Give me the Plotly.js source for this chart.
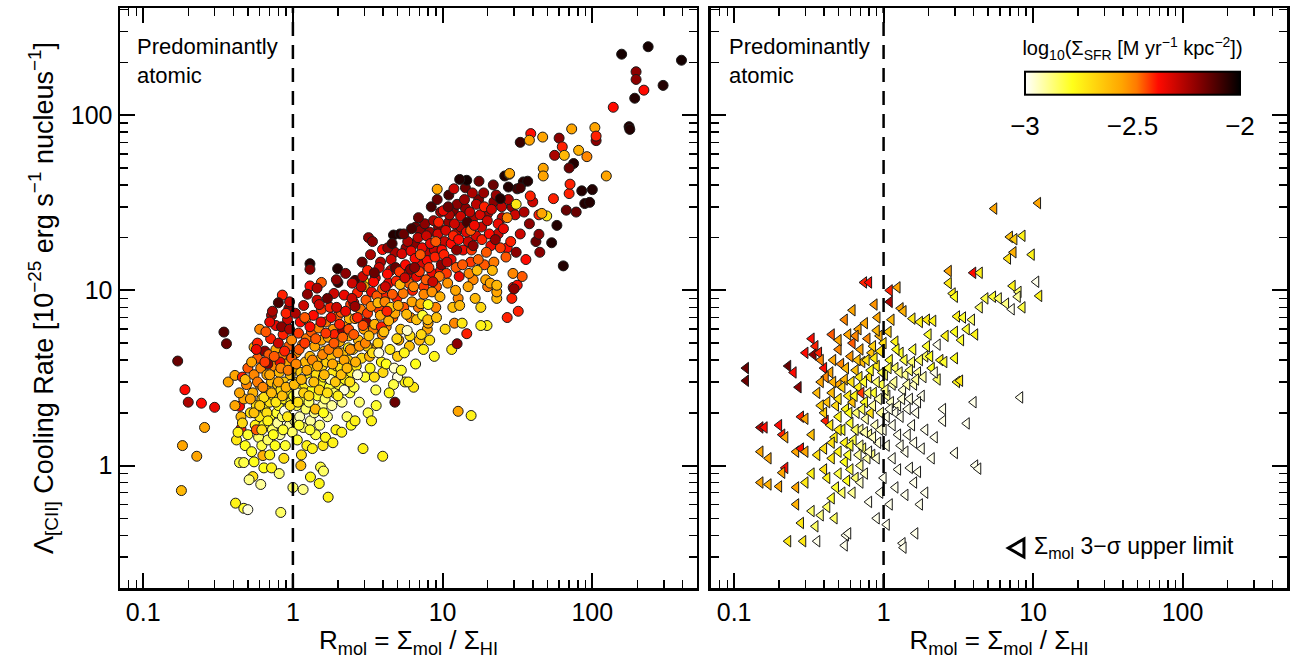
<!DOCTYPE html>
<html>
<head>
<meta charset="utf-8">
<script src="https://cdn.plot.ly/plotly-3.0.1.min.js"></script>
<style>
  html, body { margin: 0; padding: 0; background: #fff; }
  #chart { width: 1294px; height: 669px; }
</style>
</head>
<body>
<div id="chart"></div>
<script>
// Each point is [R_mol, Lambda_CII, log10 SFR surface density]

// Left panel: detected molecular gas (circles)
const detLowOutliers = [
  [0.17,3.95,-2.15],[0.19,2.71,-2.38],[0.2,2.3,-2.25],[0.245,2.27,-2.38],[0.3,2.15,-2.35],
  [0.257,1.65,-2.55],[0.183,1.3,-2.55],[0.228,1.13,-2.55],[0.18,0.72,-2.6],[0.346,5.78,-2.12],
  [0.36,4.96,-2.15],[0.414,0.61,-2.75],[0.47,0.57,-2.8],[0.5,0.56,-2.97],[0.83,0.54,-2.85],
  [1.0,0.75,-2.85],[1.17,0.73,-2.88],[1.72,0.66,-2.75],[3.98,1.13,-2.75],[2.94,1.25,-2.75],
  [0.44,1.04,-2.82],[0.47,1.04,-2.82],[0.54,0.865,-2.7],[0.51,0.83,-2.88],[0.61,0.78,-2.9],
  [0.64,0.97,-2.78],[0.72,0.97,-2.75],[0.81,0.9,-2.86],[1.53,0.98,-2.82],[1.6,0.93,-2.85],
  [1.31,0.86,-2.76],[1.5,0.79,-2.76],[1.13,1.0,-2.62],[0.63,1.14,-2.58],[0.45,1.62,-2.4],
  [0.44,2.18,-2.38],[0.37,3.0,-2.55],[0.41,3.27,-2.55],[0.46,3.2,-2.4],[0.55,4.74,-2.55],
  [0.65,4.5,-2.2],[0.85,9.4,-2.4],[0.8,8.5,-2.1],[0.72,7.2,-2.25],[0.94,7.9,-2.2],
  [1.3,14.2,-2.05],[1.3,13.2,-2.2],[1.99,13.3,-2.05],[2.0,11.1,-2.08],[1.55,11.1,-2.45],
  [1.3,10.6,-2.38],[3.2,20,-2.2],[3.4,19,-2.2],[3.97,17.1,-2.38],[4.7,20.7,-2.05],
  [5.2,21,-2.05],[6.6,23,-2.15],[2.6,11.4,-2.1],[3.0,11.2,-2.75],[4.8,2.3,-2.15],
  [5.6,3.0,-2.75],[6.4,2.8,-2.72],[5.0,3.2,-2.97],[12.7,2.04,-2.55],[15.5,1.93,-2.75]
];

const detHighOutliers = [
  [157,223,-2.03],[236,246,-2.03],[394,206,-2.03],[196,177,-2.2],[196,160,-2.2],
  [221,139,-2.38],[192,125,-2.05],[297,148,-2.05],[138,111,-2.38],[176,86,-2.05],
  [178,83,-2.05],[33,70,-2.08],[38.8,78.5,-2.38],[38,72,-2.55],[46.6,75,-2.55],
  [60,74,-2.2],[72.8,83.5,-2.55],[104,85,-2.55],[106,71.6,-2.2],[106,76,-2.4],
  [63,66,-2.4],[56,59,-2.25],[65,59,-2.6],[81,63,-2.58],[92,58,-2.5],
  [75,53,-2.05],[70,50,-2.15],[47,49.8,-2.55],[47,45,-2.55],[124,45,-2.55],
  [14.5,42.5,-2.03],[9.2,37.8,-2.55],[27.9,46,-2.58],[34.6,41.6,-2.05],[37,42,-2.05],
  [27.5,38.9,-2.05],[33,38.5,-2.1],[38.5,34.6,-2.4],[31,31,-2.72],[24.3,33.4,-2.05],
  [55,33.4,-2.4],[70,35.7,-2.4],[85,37,-2.05],[100,37.6,-2.05],[67,28.7,-2.15],
  [78,28,-2.15],[89,31.3,-2.05],[96,31.8,-2.05],[71,40.4,-2.4],[58,23.5,-2.05],
  [53.5,18.7,-2.05],[64,13.8,-2.05],[44.6,16.5,-2.2],[44,20.9,-2.2],[49.6,26.6,-2.72],
  [46,27.5,-2.55],[29.6,10.4,-2.38],[31.5,10.7,-2.38],[32,7.6,-2.4],[27,7.0,-2.4],
  [19.8,6.3,-2.75],[18,6.3,-2.75],[23,9.8,-2.55],[23,10.7,-2.6],[14.5,5.66,-2.4],
  [12.5,4.96,-2.2],[30,10.2,-2.2],[28,46.5,-2.55],[13,43,-2.05],[10.9,30,-2.15]
];

const detCloudLow = [
  [0.42,1.4,-2.72],[0.43,1.55,-2.75],[0.45,1.9,-2.6],[0.47,2.4,-2.55],[0.48,1.3,-2.78],
  [0.49,2.9,-2.5],[0.44,2.6,-2.55],[0.46,1.75,-2.68],[0.5,3.6,-2.45],[0.5,1.5,-2.8],
  [0.41,2.2,-2.55],[0.48,3.1,-2.6],
  [0.52,2.0,-2.7],[0.53,1.2,-2.8],[0.54,2.6,-2.58],[0.55,3.3,-2.5],[0.56,1.7,-2.75],
  [0.57,2.2,-2.7],[0.58,4.1,-2.45],[0.59,1.45,-2.85],[0.6,2.9,-2.55],[0.6,1.9,-2.72],
  [0.61,3.6,-2.5],[0.62,1.3,-2.82],[0.62,2.4,-2.65],[0.55,1.05,-2.78],[0.58,5.0,-2.4],
  [0.53,3.9,-2.55],[0.6,6.0,-2.5],[0.57,1.6,-2.45],
  [0.64,1.7,-2.8],[0.65,2.1,-2.75],[0.66,2.7,-2.6],[0.67,3.3,-2.55],[0.68,1.4,-2.85],
  [0.69,4.3,-2.45],[0.7,2.3,-2.7],[0.7,1.9,-2.78],[0.71,5.3,-2.4],[0.72,3.0,-2.6],
  [0.73,1.6,-2.85],[0.74,2.5,-2.72],[0.75,3.7,-2.5],[0.76,1.3,-2.78],[0.77,6.3,-2.35],
  [0.78,2.0,-2.8],[0.79,2.9,-2.65],[0.66,5.8,-2.45],[0.73,7.6,-2.25],[0.68,3.8,-2.2],
  [0.77,4.6,-2.55],[0.79,1.75,-2.9],[0.64,2.45,-2.7],[0.7,1.15,-2.75],
  [0.8,2.2,-2.78],[0.81,3.4,-2.6],[0.82,1.5,-2.9],[0.83,2.7,-2.7],[0.84,4.2,-2.5],
  [0.85,1.9,-2.85],[0.86,5.6,-2.4],[0.87,2.4,-2.75],[0.88,3.0,-2.65],[0.89,1.3,-2.8],
  [0.9,3.8,-2.55],[0.91,2.1,-2.82],[0.92,6.8,-2.3],[0.93,2.6,-2.72],[0.94,4.8,-2.45],
  [0.95,1.7,-2.9],[0.96,3.3,-2.62],[0.97,2.3,-2.8],[0.98,5.2,-2.5],[0.99,1.55,-2.85],
  [0.84,6.2,-2.2],[0.9,7.4,-2.4],[0.87,1.1,-2.7],[0.95,8.6,-2.3],[0.82,3.9,-2.35],
  [0.97,2.9,-2.95],[0.88,2.05,-2.98]
];

const detCloudMid = [
  [1.01,2.5,-2.78],[1.02,3.6,-2.62],[1.03,1.8,-2.88],[1.05,4.4,-2.52],[1.06,2.2,-2.82],
  [1.07,1.4,-2.8],[1.08,3.0,-2.7],[1.09,5.7,-2.42],[1.1,2.7,-2.76],[1.11,1.9,-2.92],
  [1.12,6.6,-2.38],[1.13,3.4,-2.65],[1.15,2.4,-2.8],[1.16,4.9,-2.5],[1.17,1.65,-2.88],
  [1.18,8.2,-2.3],[1.2,2.9,-2.72],[1.21,3.9,-2.6],[1.22,2.1,-2.85],[1.23,5.3,-2.48],
  [1.24,1.3,-2.75],[1.25,9.5,-2.2],[1.04,7.4,-2.25],[1.14,1.15,-2.7],[1.19,3.2,-2.98],
  [1.07,2.6,-2.95],[1.22,6.9,-2.55],
  [1.27,3.1,-2.72],[1.28,2.3,-2.85],[1.3,4.2,-2.6],[1.31,1.8,-2.9],[1.33,5.8,-2.45],
  [1.34,2.7,-2.78],[1.36,3.6,-2.68],[1.37,7.2,-2.38],[1.39,2.0,-2.88],[1.4,4.8,-2.55],
  [1.42,1.5,-2.82],[1.43,3.3,-2.7],[1.45,8.8,-2.3],[1.46,2.5,-2.8],[1.48,6.1,-2.5],
  [1.5,4.0,-2.62],[1.51,1.7,-2.86],[1.53,2.9,-2.76],[1.55,5.2,-2.55],[1.57,3.7,-2.68],
  [1.58,2.2,-2.9],[1.35,1.25,-2.75],[1.45,10.3,-2.25],[1.32,3.0,-2.97],[1.55,7.8,-2.42],
  [1.41,2.1,-2.6],[1.59,1.3,-2.72],
  [1.6,3.2,-2.74],[1.62,4.5,-2.6],[1.64,2.4,-2.85],[1.66,6.6,-2.48],[1.68,3.9,-2.66],
  [1.7,1.9,-2.88],[1.72,5.4,-2.55],[1.75,2.8,-2.8],[1.77,8.0,-2.4],[1.8,4.2,-2.62],
  [1.82,2.2,-2.9],[1.84,3.4,-2.72],[1.86,6.0,-2.52],[1.88,9.6,-2.3],[1.9,2.6,-2.84],
  [1.92,4.8,-2.58],[1.94,1.6,-2.75],[1.96,3.7,-2.68],[1.98,7.1,-2.45],[1.65,1.45,-2.76],
  [1.78,3.1,-2.95],[1.95,11.5,-2.2],[1.7,9.0,-2.15],[1.85,1.35,-2.75],[1.9,5.6,-2.4],
  [2.02,2.9,-2.8],[2.05,5.1,-2.58],[2.08,3.6,-2.7],[2.1,7.5,-2.45],[2.13,2.3,-2.88],
  [2.16,4.4,-2.62],[2.2,9.4,-2.35],[2.23,3.1,-2.76],[2.26,6.2,-2.52],[2.3,1.9,-2.85],
  [2.33,4.0,-2.66],[2.36,5.5,-2.58],[2.4,2.6,-2.82],[2.43,8.3,-2.42],[2.46,3.4,-2.74],
  [2.49,11.0,-2.3],[2.12,1.55,-2.75],[2.25,12.5,-2.2],[2.38,6.9,-2.6],[2.2,2.7,-2.97],
  [2.45,1.7,-2.78],[2.15,5.9,-2.2],[2.35,4.7,-2.75],
  [2.52,4.6,-2.64],[2.56,2.8,-2.82],[2.6,6.9,-2.5],[2.65,3.7,-2.72],[2.7,9.7,-2.4],
  [2.74,5.2,-2.6],[2.78,2.3,-2.86],[2.83,7.8,-2.48],[2.88,4.1,-2.68],[2.93,12.0,-2.3],
  [2.98,6.0,-2.55],[3.03,3.2,-2.8],[3.08,8.8,-2.45],[3.13,4.8,-2.66],[3.18,2.0,-2.82],
  [2.6,1.8,-2.75],[2.9,14.5,-2.15],[3.1,6.6,-2.2],[2.7,3.3,-2.95],[3.0,10.5,-2.55],
  [2.55,8.5,-2.35],[3.15,13.0,-2.4]
];

const detCloudHigh = [
  [3.22,5.5,-2.62],[3.28,3.6,-2.76],[3.33,8.1,-2.5],[3.4,4.4,-2.7],[3.46,11.2,-2.38],
  [3.52,6.4,-2.58],[3.58,2.7,-2.84],[3.64,9.3,-2.45],[3.7,5.0,-2.66],[3.77,13.5,-2.3],
  [3.84,7.2,-2.55],[3.9,3.9,-2.76],[3.97,10.2,-2.45],[3.3,16.0,-2.25],[3.6,2.2,-2.8],
  [3.75,4.4,-2.97],[3.5,12.6,-2.15],[3.9,6.2,-2.4],[3.35,1.8,-2.75],[3.7,8.5,-2.6],
  [4.05,5.8,-2.62],[4.12,8.6,-2.5],[4.2,3.8,-2.78],[4.28,12.4,-2.38],[4.36,6.7,-2.58],
  [4.45,4.6,-2.72],[4.53,15.0,-2.3],[4.62,9.5,-2.45],[4.7,2.9,-2.82],[4.8,7.4,-2.55],
  [4.9,11.3,-2.4],[4.95,5.3,-2.68],[4.3,17.5,-2.2],[4.6,18.5,-2.1],[4.15,10.5,-2.3],
  [4.4,2.6,-2.76],[4.85,13.5,-2.15],[4.5,8.0,-2.65],[4.75,3.6,-2.95],[4.25,7.6,-2.4],
  [5.05,8.2,-2.55],[5.15,12.8,-2.42],[5.25,6.0,-2.64],[5.35,16.2,-2.32],[5.45,9.6,-2.48],
  [5.55,4.4,-2.76],[5.65,14.0,-2.38],[5.75,7.3,-2.6],[5.85,19.0,-2.25],[5.95,11.0,-2.45],
  [6.05,5.5,-2.7],[6.15,16.8,-2.35],[6.25,8.6,-2.55],[5.3,3.5,-2.8],[5.9,3.0,-2.75],
  [5.5,21.0,-2.15],[6.1,13.2,-2.2],[5.2,10.8,-2.6],[5.8,5.9,-2.95],[6.2,22.5,-2.1],
  [5.6,11.8,-2.3],
  [6.4,10.5,-2.5],[6.55,15.2,-2.38],[6.7,6.8,-2.62],[6.85,20.0,-2.28],[7.0,12.8,-2.42],
  [7.15,8.4,-2.56],[7.3,17.5,-2.35],[7.45,4.6,-2.74],[7.6,24.0,-2.2],[7.75,11.5,-2.45],
  [7.9,14.8,-2.38],[6.6,3.8,-2.78],[7.2,5.6,-2.68],[7.5,9.5,-2.5],[6.9,26.0,-2.15],
  [7.8,20.5,-2.3],[6.5,13.5,-2.2],[7.1,16.0,-2.45],[7.35,7.2,-2.8],[7.95,6.8,-2.62],
  [8.1,13.5,-2.42],[8.3,18.5,-2.35],[8.5,9.8,-2.52],[8.7,25.0,-2.25],[8.9,15.5,-2.4],
  [9.1,7.0,-2.62],[9.3,21.0,-2.32],[9.5,12.0,-2.48],[9.7,28.0,-2.22],[9.9,17.0,-2.38],
  [8.2,5.2,-2.7],[8.8,4.2,-2.76],[9.6,9.2,-2.58],[8.4,30.0,-2.1],[9.2,33.0,-2.15],
  [8.6,11.2,-2.3],[9.8,14.0,-2.2],[9.0,19.0,-2.45],[8.0,8.3,-2.78],[9.4,24.5,-2.4]
];

const detCloudTop = [
  [10.2,16.0,-2.4],[10.5,22.0,-2.32],[10.8,11.0,-2.52],[11.1,27.0,-2.25],[11.4,18.5,-2.38],
  [11.7,8.0,-2.62],[12.0,24.0,-2.3],[12.3,13.5,-2.45],[12.5,31.0,-2.2],[10.4,6.0,-2.68],
  [11.0,35.0,-2.1],[11.8,20.5,-2.4],[12.2,10.0,-2.55],[10.7,14.5,-2.28],[11.5,4.6,-2.72],
  [12.4,17.0,-2.2],[10.1,28.5,-2.35],[11.9,38.0,-2.3],
  [12.8,19.5,-2.38],[13.2,26.5,-2.3],[13.6,14.0,-2.45],[14.0,33.0,-2.22],[14.4,21.5,-2.35],
  [14.8,10.5,-2.55],[15.2,28.0,-2.28],[15.6,17.0,-2.42],[13.0,8.2,-2.6],[14.2,38.5,-2.15],
  [15.0,12.5,-2.5],[15.8,36.0,-2.25],[13.5,6.5,-2.72],[14.6,24.5,-2.1],[15.4,22.0,-2.45],
  [12.9,12.0,-2.35],
  [16.3,23.5,-2.36],[16.8,31.0,-2.28],[17.3,15.0,-2.46],[17.8,27.0,-2.32],[18.3,19.5,-2.4],
  [18.8,36.0,-2.22],[19.4,11.5,-2.55],[19.9,25.0,-2.3],[16.5,9.0,-2.6],[17.5,42.0,-2.15],
  [18.0,8.0,-2.68],[19.0,30.0,-2.4],[16.0,18.0,-2.2],[19.6,16.5,-2.45],[17.0,13.0,-2.62],
  [20.5,21.0,-2.38],[21.2,29.0,-2.3],[22.0,14.5,-2.48],[22.8,35.0,-2.22],[23.5,24.0,-2.35],
  [24.3,17.5,-2.42],[20.8,11.0,-2.55],[21.8,40.0,-2.15],[23.0,9.0,-2.6],[24.8,30.0,-2.28],
  [22.5,19.5,-2.2],[21.5,13.0,-2.6],
  [25.5,22.5,-2.35],[26.5,15.5,-2.45],[27.5,33.0,-2.25],[28.5,19.0,-2.4],[29.5,12.5,-2.5],
  [30.5,27.0,-2.3],[31.5,38.0,-2.1],[26.0,45.0,-2.05],[29.0,9.0,-2.4],[31.0,16.5,-2.2],
  [27.0,26.0,-2.5],
  [33,21,-2.3],[35,28,-2.25],[36,15,-2.38],[38,24,-2.2],[40,32,-2.3],
  [42,19,-2.15],[44,27,-2.4],[34,12,-2.45]
];

// extra points in the crowded middle of the cloud
const detCloudFill = [
  [0.52,2.4,-2.55],[0.55,2.0,-2.62],[0.58,3.0,-2.48],[0.6,2.2,-2.66],[0.63,2.8,-2.5],
  [0.65,3.9,-2.42],[0.67,2.0,-2.7],[0.7,3.3,-2.55],[0.72,2.6,-2.6],[0.75,4.2,-2.45],
  [0.77,2.3,-2.72],[0.8,3.0,-2.55],[0.83,3.6,-2.5],[0.85,2.5,-2.62],[0.88,4.5,-2.4],
  [0.9,2.8,-2.58],[0.93,3.5,-2.48],[0.96,2.2,-2.7],[0.98,4.1,-2.45],[0.62,1.6,-2.7],
  [0.68,1.8,-2.75],[0.74,1.5,-2.78],[0.86,1.6,-2.8],[0.92,1.9,-2.72],[0.57,4.6,-2.35],
  [0.8,5.0,-2.3],[0.95,6.0,-2.25],[0.7,6.6,-2.35],
  [1.02,2.9,-2.6],[1.05,3.8,-2.5],[1.08,2.3,-2.7],[1.1,4.6,-2.45],[1.14,3.1,-2.58],
  [1.18,2.6,-2.66],[1.2,5.0,-2.42],[1.24,3.5,-2.55],[1.28,2.5,-2.68],[1.3,6.2,-2.38],
  [1.35,4.0,-2.5],[1.38,3.0,-2.62],[1.42,5.3,-2.45],[1.46,3.7,-2.56],[1.5,2.7,-2.66],
  [1.54,6.6,-2.35],[1.58,4.3,-2.5],[1.62,3.3,-2.6],[1.66,5.7,-2.42],[1.7,2.6,-2.7],
  [1.74,4.6,-2.48],[1.8,7.0,-2.35],[1.84,3.8,-2.56],[1.88,5.0,-2.45],[1.92,3.0,-2.64],
  [1.96,8.0,-2.3],[2.0,4.4,-2.52],[2.05,6.4,-2.4],[2.1,3.3,-2.62],[2.15,5.4,-2.46],
  [2.2,4.0,-2.55],[2.25,7.6,-2.35],[2.3,3.6,-2.6],[2.36,6.0,-2.44],[2.42,4.6,-2.52],
  [2.48,9.0,-2.3],[2.55,5.6,-2.45],[2.62,3.9,-2.58],[2.7,7.0,-2.4],[2.78,4.8,-2.52],
  [2.86,10.5,-2.28],[2.94,6.3,-2.44],[2.6,8.1,-2.22],[1.5,8.3,-2.3],[1.2,7.0,-2.45],
  [2.0,2.5,-2.74],[2.4,3.0,-2.7],[1.3,1.6,-2.8],[1.6,2.0,-2.78],[1.1,1.7,-2.8],
  [3.05,5.0,-2.5],[3.15,7.4,-2.42],[3.25,4.2,-2.58],[3.35,9.8,-2.35],[3.45,6.0,-2.48],
  [3.55,11.8,-2.3],[3.65,4.8,-2.55],[3.75,7.8,-2.42],[3.85,14.5,-2.25],[3.95,5.6,-2.5],
  [4.1,9.2,-2.4],[4.2,6.2,-2.5],[4.35,11.0,-2.35],[4.5,13.0,-2.3],[4.65,7.0,-2.46],
  [4.8,16.5,-2.25],[4.95,9.0,-2.4],[5.1,5.2,-2.58],[5.3,11.5,-2.36],[5.5,8.0,-2.45],
  [5.7,17.5,-2.22],[5.9,12.5,-2.32],[6.1,7.0,-2.5],[6.3,10.0,-2.4],[6.5,18.5,-2.2],
  [6.7,12.0,-2.35],[6.9,8.0,-2.48],[7.1,22.0,-2.2],[7.3,14.0,-2.32],[7.5,10.5,-2.42],
  [7.7,16.5,-2.28],[7.9,6.0,-2.55],[8.2,21.5,-2.22],[8.5,12.5,-2.35],[8.8,17.0,-2.3],
  [9.1,10.5,-2.45],[9.4,23.0,-2.2],[9.7,13.0,-2.38],[5.0,4.2,-2.65],[6.0,4.8,-2.62],
  [7.0,5.2,-2.6],[8.0,6.5,-2.55],[9.0,8.0,-2.5],[4.0,3.4,-2.68],[3.5,3.2,-2.7],
  [10.3,19.0,-2.3],[10.6,12.5,-2.42],[11.0,24.5,-2.22],[11.4,15.0,-2.35],[11.8,28.5,-2.18],
  [12.2,21.0,-2.3],[12.7,9.0,-2.5],[13.2,23.0,-2.25],[13.7,17.0,-2.35],[14.2,29.5,-2.2],
  [14.8,19.0,-2.3],[15.4,14.5,-2.42],[16.0,26.0,-2.25],[16.7,20.5,-2.32],[17.4,33.0,-2.18],
  [18.2,23.0,-2.3],[19.0,14.0,-2.45],[20.0,27.5,-2.25],[21.0,18.0,-2.35],[22.0,32.0,-2.2],
  [23.5,21.0,-2.3],[25.0,26.0,-2.28],[27.0,17.5,-2.38],[29.0,30.0,-2.22],[12.0,6.5,-2.5],
  [16.0,11.5,-2.5],[20.0,10.5,-2.48]
];

// Right panel: 3-sigma upper limits on Sigma_mol (left-pointing triangles)
const limTrend = [
  [10.8,31.5,-2.55],[5.5,29.3,-2.55],[7.0,20.2,-2.62],[7.5,19.6,-2.65],[8.5,20.5,-2.75],
  [6.8,15.2,-2.7],[7.4,16.5,-2.58],[9.8,16.0,-2.75],[2.73,12.9,-2.55],[3.98,12.6,-2.38],
  [4.4,12.6,-2.75],[2.73,11.0,-2.72],[2.9,9.6,-2.75],[3.0,9.2,-2.78],[7.3,10.6,-2.75],
  [8.0,9.8,-2.85],[10.5,11.2,-2.98],[11.0,9.3,-2.75],[0.74,11.1,-2.4],[0.8,11.1,-2.38],
  [1.1,10.0,-2.4],[1.24,10.4,-2.55],[1.1,8.6,-2.25],[1.3,7.9,-2.55],[1.36,7.6,-2.58],
  [0.62,7.7,-2.55],[0.87,8.3,-2.52],[0.91,7.0,-2.55],[1.13,6.8,-2.6],[1.56,6.9,-2.72],
  [1.75,6.6,-2.75],[1.95,6.8,-2.72],[2.15,6.7,-2.75],[3.1,7.1,-2.75],[3.4,7.0,-2.8],
  [3.9,6.8,-2.85],[4.8,9.0,-2.82],[5.4,9.2,-2.8],[5.9,9.0,-2.85],[6.6,8.4,-2.88],
  [7.2,7.8,-2.98],[7.9,9.2,-2.9],[8.5,8.0,-2.82],[4.4,8.0,-2.85],[3.6,6.0,-2.8],
  [4.1,5.6,-2.75],[3.0,5.8,-2.78],[3.3,5.2,-2.8],[2.6,5.5,-2.75],[2.3,4.9,-2.98],
  [2.0,5.6,-2.8],[3.1,3.0,-2.75],[3.25,3.05,-2.72],[2.4,4.0,-2.75],[2.55,3.9,-2.8],
  [3.0,4.1,-2.78],[2.1,3.6,-2.78],[2.3,3.1,-2.85],[2.2,3.4,-2.98]
];

const limFaint = [
  [4.0,2.3,-2.98],[8.2,2.45,-2.98],[3.6,1.74,-2.98],[2.5,2.1,-2.98],[2.5,1.8,-2.98],
  [3.0,1.18,-2.98],[4.1,1.0,-2.98],[4.3,0.96,-2.98],[1.5,0.97,-2.98],[1.7,0.92,-2.98],
  [1.6,0.8,-2.98],[1.9,0.7,-2.98],[1.75,0.6,-2.98],[1.63,0.41,-2.98],[1.34,0.36,-2.98],
  [1.36,0.34,-2.98],[1.05,0.46,-2.98],[0.56,0.4,-2.98],[0.58,0.41,-2.98],[0.55,0.35,-2.98],
  [0.36,0.37,-2.98],[1.3,1.3,-2.98],[1.45,1.5,-2.98],[1.8,1.25,-2.98],[2.1,1.1,-2.98],
  [1.2,0.75,-2.98],[1.1,0.6,-2.98],[1.0,0.85,-2.98],[1.25,0.95,-2.98],[1.55,1.7,-2.98],
  [2.2,1.45,-2.98],[1.15,1.1,-2.98],[0.95,0.7,-2.98],[0.8,0.62,-2.98],[0.9,0.5,-2.98],
  [1.4,0.68,-2.98]
];

const limAtomic = [
  [0.33,5.3,-2.38],[0.35,4.8,-2.4],[0.3,4.4,-2.38],[0.34,4.3,-2.2],[0.37,4.4,-2.4],
  [0.23,3.7,-2.15],[0.25,3.4,-2.38],[0.27,2.8,-2.2],[0.12,3.6,-2.15],[0.12,3.05,-2.15],
  [0.4,3.6,-2.38],[0.44,3.4,-2.55],[0.41,3.2,-2.5],[0.38,3.0,-2.55],[0.28,1.9,-2.4],
  [0.3,1.85,-2.55],[0.41,1.8,-2.4],[0.15,1.65,-2.25],[0.16,1.65,-2.38],[0.2,1.7,-2.38],
  [0.21,1.5,-2.4],[0.22,1.45,-2.55],[0.15,1.2,-2.55],[0.17,1.1,-2.55],[0.26,1.2,-2.55],
  [0.28,1.25,-2.38],[0.3,1.2,-2.55],[0.22,0.97,-2.38],[0.21,0.91,-2.55],[0.15,0.8,-2.55],
  [0.17,0.78,-2.58],[0.2,0.76,-2.55],[0.26,0.75,-2.55],[0.26,0.6,-2.58],[0.3,0.8,-2.72],
  [0.28,0.47,-2.72],[0.35,0.45,-2.85],[0.23,0.37,-2.72],[0.29,0.37,-2.72],[0.33,0.55,-2.85],
  [0.38,0.52,-2.88],[0.42,0.58,-2.85],[0.47,0.5,-2.85]
];

const limCore = [
  [0.45,2.6,-2.6],[0.5,2.9,-2.55],[0.48,2.2,-2.68],[0.52,3.8,-2.5],[0.55,3.1,-2.58],
  [0.58,2.5,-2.72],[0.6,4.2,-2.52],[0.62,5.0,-2.45],[0.65,3.5,-2.62],[0.68,2.8,-2.74],
  [0.7,4.6,-2.55],[0.72,3.9,-2.6],[0.75,2.3,-2.78],[0.78,5.3,-2.5],[0.8,3.2,-2.7],
  [0.83,4.4,-2.62],[0.86,2.6,-2.8],[0.9,3.7,-2.72],[0.94,5.5,-2.58],[0.97,2.9,-2.82],
  [0.4,2.0,-2.65],[0.44,1.7,-2.72],[0.47,1.45,-2.74],[0.5,1.9,-2.75],[0.53,1.6,-2.78],
  [0.56,2.1,-2.76],[0.6,1.75,-2.8],[0.63,1.4,-2.82],[0.66,2.0,-2.86],[0.7,1.6,-2.9],
  [0.73,1.25,-2.85],[0.76,1.85,-2.92],[0.8,1.5,-2.9],[0.84,1.15,-2.88],[0.88,1.7,-2.94],
  [0.92,1.35,-2.96],[0.96,2.0,-2.9],[1.0,1.6,-2.97],[0.5,1.2,-2.75],[0.55,1.05,-2.78],
  [0.6,0.95,-2.82],[0.65,0.85,-2.86],[0.7,1.0,-2.9],[0.75,0.9,-2.94],[0.45,1.1,-2.72],
  [0.4,0.95,-2.7],[0.42,0.85,-2.75],[0.48,0.75,-2.8],[0.53,0.7,-2.85],[1.02,3.3,-2.85],
  [1.06,2.5,-2.9],[1.1,4.0,-2.78],[1.15,2.9,-2.92],[1.2,3.6,-2.85],[1.25,2.2,-2.95],
  [1.3,4.4,-2.8],[1.35,2.7,-2.96],[1.4,3.3,-2.9],[1.5,2.4,-2.97],[1.55,3.9,-2.86],
  [1.6,2.9,-2.94],[1.7,3.4,-2.9],[1.8,2.5,-2.98],[1.9,4.2,-2.84],[1.05,1.9,-2.97],
  [1.15,1.7,-2.98],[1.2,2.0,-2.98],[1.3,1.9,-2.98],[1.45,2.1,-2.98],[1.65,2.0,-2.98],
  [1.7,2.3,-2.98],[0.85,4.8,-2.66],[0.9,5.9,-2.6],[1.0,5.0,-2.7],[1.08,5.8,-2.65],
  [1.2,5.1,-2.75],[0.68,6.0,-2.55],[0.58,5.6,-2.55],[0.5,4.6,-2.5],[0.46,4.0,-2.55],
  [0.55,1.35,-2.75],[0.62,2.3,-2.62],[0.71,2.6,-2.42],[0.82,2.0,-2.7],[0.68,1.15,-2.9],
  [0.78,1.1,-2.92],[0.57,0.82,-2.78]
];

const limCoreFill = [
  [0.42,2.3,-2.62],[0.46,3.0,-2.58],[0.5,2.4,-2.7],[0.53,2.8,-2.66],[0.56,3.6,-2.6],
  [0.59,2.0,-2.78],[0.61,3.0,-2.7],[0.64,2.5,-2.76],[0.67,4.0,-2.62],[0.69,3.2,-2.72],
  [0.72,2.1,-2.84],[0.74,3.0,-2.8],[0.77,4.0,-2.7],[0.79,2.6,-2.86],[0.82,3.5,-2.78],
  [0.85,2.2,-2.9],[0.87,4.1,-2.72],[0.9,3.0,-2.86],[0.93,2.4,-2.92],[0.95,4.5,-2.7],
  [0.98,3.4,-2.82],[0.6,1.3,-2.8],[0.65,1.6,-2.84],[0.7,1.3,-2.9],[0.75,1.55,-2.92],
  [0.8,1.2,-2.95],[0.85,1.45,-2.94],[0.9,1.1,-2.96],[0.95,1.6,-2.95],[0.58,1.15,-2.8],
  [0.5,1.6,-2.72],[0.45,1.35,-2.7],[1.03,2.7,-2.88],[1.08,3.6,-2.82],[1.12,2.3,-2.94],
  [1.18,3.0,-2.9],[1.22,4.6,-2.78],[1.28,3.4,-2.88],[1.33,2.4,-2.96],[1.38,4.0,-2.82],
  [1.44,2.9,-2.92],[1.5,3.5,-2.86],[1.58,4.6,-2.8],[1.65,3.1,-2.9],[1.75,4.0,-2.84],
  [1.85,3.2,-2.92],[1.95,4.8,-2.8],[2.05,4.2,-2.78],[0.65,5.5,-2.5],[0.75,6.5,-2.55],
  [0.55,6.8,-2.5],[0.45,5.6,-2.45],[0.5,5.2,-2.55],[0.38,4.0,-2.5],[0.36,2.6,-2.6],
  [0.38,2.2,-2.65],[0.33,1.5,-2.62],[0.36,1.15,-2.7],[0.33,0.9,-2.75],[0.4,1.25,-2.7],
  [0.45,0.65,-2.8],[0.5,0.9,-2.82],[0.62,0.7,-2.9],[0.7,0.8,-2.95],[1.05,1.3,-2.97],
  [1.1,2.1,-2.98],[1.25,1.5,-2.98],[1.4,1.2,-2.98],[1.6,1.35,-2.98],[1.9,1.6,-2.98]
];

const xTickVals = [0.1, 1, 10, 100];
const xTickText = ['0.1', '1', '10', '100'];
const yTickVals = [1, 10, 100];
const yTickText = ['1', '10', '100'];
const cbTickVals = [-3, -2.5, -2];
const cbTickText = ['\u22123', '\u22122.5', '\u22122'];

// Red temperature style colour table, white at -3 to black at -2
const sfrColors = [
  [0, '#ffffff'], [0.22, '#ffff1a'], [0.45, '#ffa500'], [0.52, '#ff7a00'],
  [0.62, '#ff0a00'], [0.8, '#8c0000'], [1, '#000000']
];

const FONT = 'Liberation Sans, Arial, Helvetica, sans-serif';

const detected = detLowOutliers.concat(detCloudLow, detCloudMid, detCloudFill, detCloudHigh, detCloudTop, detHighOutliers);
const limits = limAtomic.concat(limCore, limCoreFill, limFaint, limTrend);

// minor tick positions (2..9 of each decade)
function minorTicks(fromExp, toExp) {
  const vals = [];
  for (let e = fromExp; e <= toExp; e++) {
    for (let m = 2; m <= 9; m++) vals.push(m * Math.pow(10, e));
  }
  return vals;
}

const xMinor = minorTicks(-2, 2);
const yMinor = minorTicks(-1, 2);

var detectedTrace = {
  x: detected.map((p) => p[0]),
  y: detected.map((p) => p[1]),
  xaxis: 'x',
  yaxis: 'y',
  mode: 'markers',
  type: 'scatter',
  marker: {
    symbol: 'circle',
    size: 10,
    color: detected.map((p) => p[2]),
    colorscale: sfrColors,
    cmin: -3,
    cmax: -2,
    line: { color: '#1a1a1a', width: 1 },
    showscale: true,
    colorbar: {
      orientation: 'h',
      x: 0.8676,
      xanchor: 'center',
      y: 0.854,
      yanchor: 'middle',
      len: 0.1845,
      lenmode: 'fraction',
      thickness: 23,
      xpad: 0,
      ypad: 0,
      outlinewidth: 2,
      outlinecolor: '#000',
      tickmode: 'array',
      tickvals: cbTickVals,
      ticktext: cbTickText,
      // invisible outside ticks, only used to push the labels down a little
      ticks: 'outside',
      ticklen: 9,
      tickwidth: 1,
      tickcolor: 'rgba(0,0,0,0)',
      tickfont: { family: FONT, size: 26, color: '#000' },
      title: {
        text: 'log<sub>10</sub>(\u03a3<sub>SFR</sub> [M yr<sup>\u22121</sup> kpc<sup>\u22122</sup>])',
        side: 'top',
        font: { family: FONT, size: 20, color: '#000' },
      },
    },
  },
  hoverinfo: 'x+y',
  showlegend: false,
};

var limitTrace = {
  x: limits.map((p) => p[0]),
  y: limits.map((p) => p[1]),
  xaxis: 'x2',
  yaxis: 'y2',
  mode: 'markers',
  type: 'scatter',
  marker: {
    symbol: 'triangle-left',
    size: 10,
    color: limits.map((p) => p[2]),
    colorscale: sfrColors,
    cmin: -3,
    cmax: -2,
    line: { color: '#1a1a1a', width: 1 },
    showscale: false,
  },
  hoverinfo: 'x+y',
  showlegend: false,
};

function xAxis(domain, anchor) {
  return {
    type: 'log',
    domain: domain,
    anchor: anchor,
    range: [Math.log10(0.07), Math.log10(500)],
    tickmode: 'array',
    tickvals: xTickVals,
    ticktext: xTickText,
    ticks: 'inside',
    ticklen: 15,
    tickwidth: 2,
    tickcolor: '#000',
    minor: { tickmode: 'array', tickvals: xMinor, ticks: 'inside', ticklen: 8, tickwidth: 1.5, tickcolor: '#000', showgrid: false },
    showline: true,
    linewidth: 2.5,
    linecolor: '#000',
    mirror: 'ticks',
    showgrid: false,
    zeroline: false,
    tickfont: { family: FONT, size: 25, color: '#000' },
    title: {
      text: 'R<sub>mol</sub> = \u03a3<sub>mol</sub> / \u03a3<sub>HI</sub>',
      font: { family: FONT, size: 26, color: '#000' },
      standoff: 6,
    },
  };
}

function yAxis(anchor, labels) {
  return {
    type: 'log',
    anchor: anchor,
    domain: [0, 1],
    range: [Math.log10(0.2), 2.612],
    tickmode: 'array',
    tickvals: yTickVals,
    ticktext: yTickText,
    showticklabels: labels,
    ticks: 'inside',
    ticklen: 15,
    tickwidth: 2,
    tickcolor: '#000',
    minor: { tickmode: 'array', tickvals: yMinor, ticks: 'inside', ticklen: 8, tickwidth: 1.5, tickcolor: '#000', showgrid: false },
    showline: true,
    linewidth: 2.5,
    linecolor: '#000',
    mirror: 'ticks',
    showgrid: false,
    zeroline: false,
    tickfont: { family: FONT, size: 25, color: '#000' },
    title: labels
      ? {
          text: '\u039b<sub>[CII]</sub> Cooling Rate [10<sup>\u221225</sup> erg s<sup>\u22121</sup> nucleus<sup>\u22121</sup>]',
          font: { family: FONT, size: 27, color: '#000' },
          standoff: 10,
        }
      : { text: '' },
  };
}

function dashedLine(xref, yref) {
  return {
    type: 'line',
    xref: xref,
    yref: yref + ' domain',
    x0: 1,
    x1: 1,
    y0: 0,
    y1: 1,
    line: { color: '#000', width: 2.5, dash: '14px,9px' },
    layer: 'above',
  };
}

function atomicLabel(xref, yref, xpos) {
  return {
    xref: xref + ' domain',
    yref: yref + ' domain',
    x: xpos,
    y: 0.958,
    xanchor: 'left',
    yanchor: 'top',
    align: 'left',
    showarrow: false,
    text: 'Predominantly<br>atomic',
    font: { family: FONT, size: 22, color: '#000' },
  };
}

var layout = {
  width: 1294,
  height: 669,
  margin: { l: 120, r: 7, t: 8, b: 81, pad: 0 },
  paper_bgcolor: '#fff',
  plot_bgcolor: '#fff',
  font: { family: FONT, color: '#000' },
  xaxis: xAxis([0, 0.4944], 'y'),
  yaxis: yAxis('x', true),
  xaxis2: xAxis([0.5064, 1], 'y2'),
  yaxis2: yAxis('x2', false),
  shapes: [
    dashedLine('x', 'y'),
    dashedLine('x2', 'y2'),
    // legend glyph for the upper-limit symbol
    {
      type: 'path',
      xref: 'paper',
      yref: 'paper',
      path: 'M 0.7612,0.069 L 0.7746,0.0845 L 0.7746,0.0535 Z',
      line: { color: '#000', width: 3 },
      fillcolor: 'rgba(255,255,255,0)',
    },
  ],
  annotations: [
    atomicLabel('x', 'y', 0.026),
    atomicLabel('x2', 'y2', 0.028),
    {
      xref: 'x2 domain',
      yref: 'y2 domain',
      x: 0.558,
      y: 0.07,
      xanchor: 'left',
      yanchor: 'middle',
      showarrow: false,
      text: '\u03a3<sub>mol</sub> 3\u2212\u03c3 upper limit',
      font: { family: FONT, size: 23, color: '#000' },
    },
  ],
};

var config = { responsive: false, displayModeBar: false, staticPlot: true };

Plotly.newPlot('chart', [detectedTrace, limitTrace], layout, config);
</script>
</body>
</html>
